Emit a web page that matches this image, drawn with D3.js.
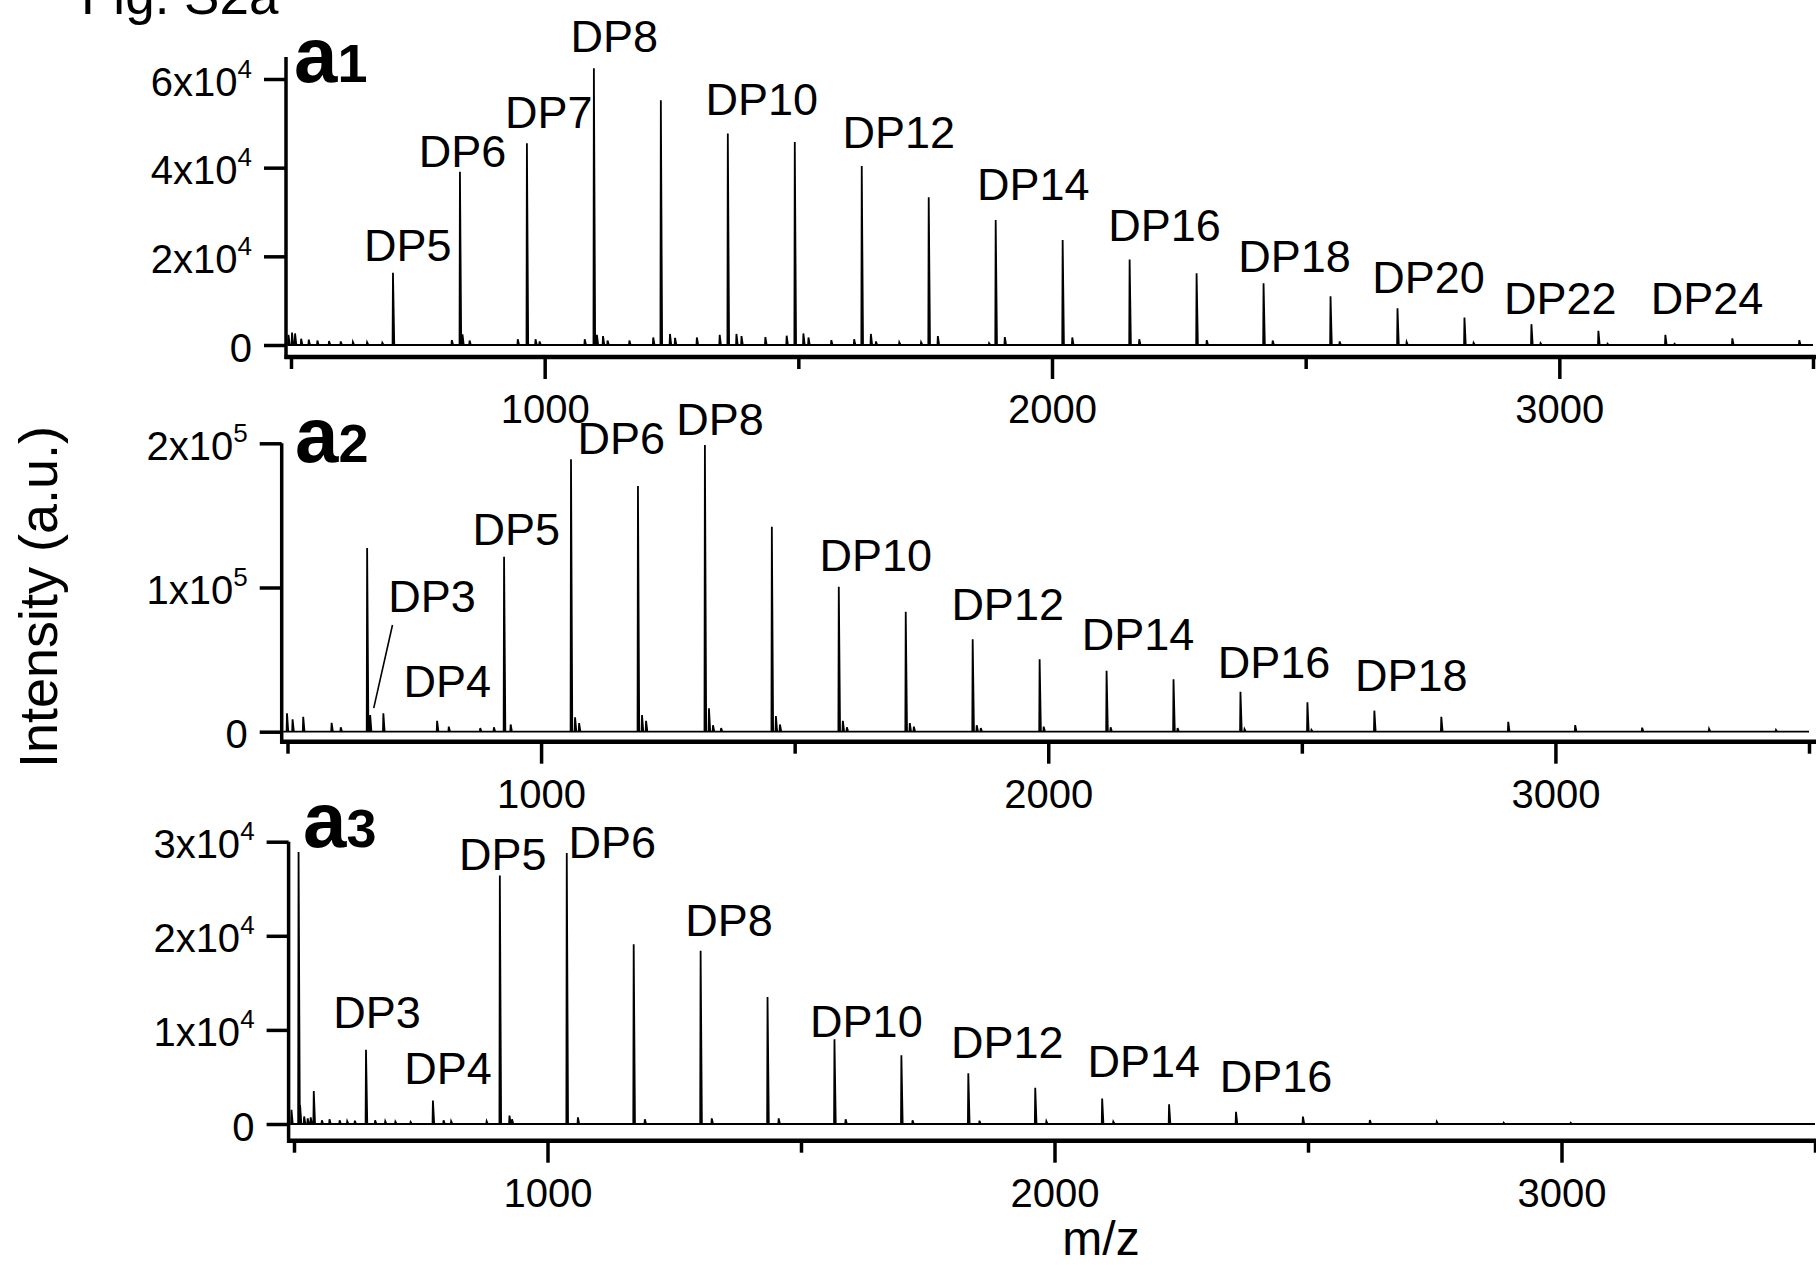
<!DOCTYPE html>
<html>
<head>
<meta charset="utf-8">
<script src="https://cdn.jsdelivr.net/npm/d3@7/dist/d3.min.js"></script>
<style>
  body { margin: 0; background: #fff; }
  svg { display: block; font-family: "Liberation Sans", Arial, sans-serif; }
</style>
</head>
<body>
<div id="chart"></div>
<script>
"use strict";

// m/z ticks shared by the three spectra
var xMajorTicks = [1000, 2000, 3000];
var xMinorTicks = [500, 1500, 2500, 3500];

// spectrum a1 : [m/z, intensity]
var a1Ticks = [0, 20000, 40000, 60000];
var a1Peaks = [
  [701, 16300], [833, 39100], [965, 45500], [1097, 62400], [1229, 55200],
  [1361, 47700], [1493, 45800], [1625, 40400], [1757, 33300], [1889, 28200],
  [2021, 23700], [2153, 19300], [2285, 16200], [2417, 13900], [2549, 11000],
  [2681, 8300], [2813, 6200], [2945, 4700], [3077, 3200], [3209, 2300],
  [3341, 1500], [3473, 1100]
];
var a1Minor = [
  [495, 2300], [502, 2800], [508, 2600], [520, 1400], [535, 1200], [552, 1000],
  [575, 900], [598, 800], [622, 700], [650, 600], [680, 500], [817, 1100],
  [838, 2400], [852, 1000], [947, 1300], [982, 1300], [990, 800], [1079, 1300],
  [1103, 2300], [1115, 2000], [1124, 1000], [1167, 1000], [1214, 1700],
  [1247, 2500], [1257, 1600], [1300, 1700], [1345, 2300], [1378, 2500],
  [1388, 2000], [1435, 1800], [1477, 2100], [1510, 2600], [1520, 1700],
  [1565, 1100], [1610, 1300], [1643, 2500], [1653, 800], [1699, 600],
  [1742, 600], [1775, 2000], [1876, 400], [1907, 1800], [2040, 1700],
  [2172, 1300], [2305, 1100], [2435, 1000], [2567, 800], [2699, 700],
  [2831, 500], [2963, 400], [3095, 300], [3227, 250]
];
var a1Labels = [
  ["DP5", 730, 19000], ["DP6", 838, 40100], ["DP7", 1008, 48900],
  ["DP8", 1137, 66100], ["DP10", 1428, 51900], ["DP12", 1698, 44400],
  ["DP14", 1963, 32700], ["DP16", 2222, 23500], ["DP18", 2478, 16500],
  ["DP20", 2742, 11700], ["DP22", 3002, 7100], ["DP24", 3291, 7100]
];

// spectrum a2
var a2Ticks = [0, 100000, 200000];
var a2Peaks = [
  [657, 127400], [663, 11600], [795, 7600], [927, 121400], [1059, 188900],
  [1191, 170400], [1323, 198800], [1455, 142200], [1587, 100600],
  [1719, 83200], [1851, 64100], [1983, 50200], [2115, 42300], [2247, 36300],
  [2379, 27700], [2511, 20400], [2643, 14600], [2775, 10400], [2907, 6900],
  [3039, 4600], [3171, 2800], [3303, 1900], [3435, 1200]
];
var a2Minor = [
  [499, 12800], [510, 8600], [531, 10400], [587, 6200], [605, 3000],
  [689, 12800], [818, 3500], [880, 2500], [907, 3000], [940, 5000],
  [1067, 10000], [1075, 6000], [1199, 11600], [1207, 7600], [1331, 16200],
  [1339, 4500], [1355, 2500], [1463, 10900], [1471, 5000], [1595, 7600],
  [1603, 3000], [1727, 6000], [1735, 3500], [1859, 4500], [1867, 2500],
  [1991, 3500], [2123, 3000], [2255, 2500], [2387, 1800], [2519, 1200]
];
var a2Labels = [
  ["DP3", 785, 83200], ["DP4", 815, 24300], ["DP5", 951, 129500],
  ["DP6", 1158, 192600], ["DP8", 1353, 205800], ["DP10", 1660, 111700],
  ["DP12", 1920, 77500], ["DP14", 2177, 56700], ["DP16", 2445, 37000],
  ["DP18", 2716, 28400]
];
var a2Leader = [[707, 74000], [670, 16300]];

// spectrum a3
var a3Ticks = [0, 10000, 20000, 30000];
var a3Peaks = [
  [509, 28900], [539, 3500], [642, 7900], [774, 2500], [906, 26400],
  [1038, 28800], [1170, 19100], [1302, 18400], [1434, 13500], [1566, 9000],
  [1698, 7300], [1830, 5400], [1962, 3850], [2094, 2700], [2226, 2100],
  [2358, 1300], [2490, 780], [2622, 420], [2754, 240], [2886, 140], [3018, 120]
];
var a3Minor = [
  [495, 1500], [512, 2000], [520, 800], [527, 600], [533, 700], [555, 400],
  [570, 500], [590, 400], [605, 300], [620, 350], [660, 400], [680, 300],
  [700, 250], [730, 200], [795, 400], [810, 300], [880, 300], [925, 900],
  [930, 500], [1060, 700], [1192, 500], [1324, 600], [1456, 600], [1588, 500],
  [1720, 400], [1852, 350], [1984, 300], [2116, 250]
];
var a3Labels = [
  ["DP3", 664, 10200], ["DP4", 804, 4200], ["DP5", 912, 27000],
  ["DP6", 1128, 28300], ["DP8", 1358, 20000], ["DP10", 1629, 9200],
  ["DP12", 1907, 7000], ["DP14", 2176, 5000], ["DP16", 2437, 3400]
];

(function (d3) {
  'use strict';

  var width = 1816;
  var height = 1265;
  var svg = d3.select("#chart").append("svg").attr("width", width).attr("height", height);

  // panel frames, in pixels
  var panels = [{
    tag: "1", ticks: a1Ticks, peaks: a1Peaks.concat(a1Minor), labels: a1Labels, yMax: 60000,
    x0: 291, x1: 1813, axisX: 286, yBottom: 345, yTop: 79, axisTop: 57, xAxisY: 357, tagX: 294, tagY: 82
  }, {
    tag: "2", ticks: a2Ticks, peaks: a2Peaks.concat(a2Minor), labels: a2Labels, yMax: 200000,
    x0: 287.5, x1: 1809, axisX: 281.7, yBottom: 731.7, yTop: 443.3, axisTop: 443.3, xAxisY: 741.7, tagX: 295, tagY: 462,
    leader: a2Leader
  }, {
    tag: "3", ticks: a3Ticks, peaks: a3Peaks.concat(a3Minor), labels: a3Labels, yMax: 30000,
    x0: 294, x1: 1815, axisX: 288.6, yBottom: 1124, yTop: 841.7, axisTop: 841.7, xAxisY: 1140.7, tagX: 303, tagY: 847
  }];

  var yTickFormat = function (sel) {
    sel.selectAll(".tick text").each(function (d) {
      var t = d3.select(this).text("");
      if (d === 0) {
        t.text("0");
        return;
      }
      var exp = Math.floor(Math.log10(d));
      var mant = Math.round(d / Math.pow(10, exp));
      t.append("tspan").text(mant + "x10");
      t.append("tspan").attr("dy", -18).attr("font-size", 26).text(exp);
    });
  };

  var styleAxis = function (sel) {
    sel.select(".domain").remove();
    sel.selectAll(".tick line").attr("stroke", "#000").attr("stroke-width", 3.5);
    sel.selectAll(".tick text").attr("fill", "#000").attr("font-size", 40);
  };

  panels.forEach(function (p) {
    var g = svg.append("g");
    var xScale = d3.scaleLinear().domain([500, 3500]).range([p.x0, p.x1]);
    var yScale = d3.scaleLinear().domain([0, p.yMax]).range([p.yBottom, p.yTop]);

    // spectrum trace: baseline with narrow peaks
    var peaks = p.peaks.slice().sort(function (a, b) { return a[0] - b[0]; });
    var pts = [[xScale.invert(p.axisX + 1.5), 0]];
    peaks.forEach(function (d) {
      pts.push([d[0] - 0.8, 0], [d[0], d[1]], [d[0] + 2.5, 0]);
    });
    pts.push([3500, 0]);
    var line = d3.line().x(function (d) { return xScale(d[0]); }).y(function (d) { return yScale(d[1]); });
    g.append("path").attr("d", line(pts)).attr("fill", "none").attr("stroke", "#000")
      .attr("stroke-width", 1.8).attr("stroke-linejoin", "miter");

    if (p.leader) {
      g.append("path").attr("d", line(p.leader)).attr("fill", "none").attr("stroke", "#000").attr("stroke-width", 1.6);
    }

    // axes
    g.append("line").attr("x1", p.axisX).attr("x2", p.axisX).attr("y1", p.axisTop).attr("y2", p.xAxisY + 2)
      .attr("stroke", "#000").attr("stroke-width", 3.5);
    g.append("line").attr("x1", p.axisX - 1.5).attr("x2", width).attr("y1", p.xAxisY).attr("y2", p.xAxisY)
      .attr("stroke", "#000").attr("stroke-width", 4.5);

    var yAxisG = g.append("g").attr("transform", "translate(" + p.axisX + ",0)")
      .call(d3.axisLeft(yScale).tickValues(p.ticks).tickSize(22).tickPadding(12));
    styleAxis(yAxisG);
    yAxisG.call(yTickFormat);
    yAxisG.selectAll(".tick text").attr("dy", "0.4em");

    var xMajG = g.append("g").attr("transform", "translate(0," + p.xAxisY + ")")
      .call(d3.axisBottom(xScale).tickValues(xMajorTicks).tickSize(22).tickPadding(16).tickFormat(d3.format("d")));
    styleAxis(xMajG);
    var xMinG = g.append("g").attr("transform", "translate(0," + p.xAxisY + ")")
      .call(d3.axisBottom(xScale).tickValues(xMinorTicks).tickSize(12).tickFormat(""));
    styleAxis(xMinG);

    // DP annotations
    g.selectAll("text.dp").data(p.labels).enter().append("text").attr("class", "dp")
      .attr("x", function (d) { return xScale(d[1]); })
      .attr("y", function (d) { return yScale(d[2]); })
      .attr("text-anchor", "middle").attr("font-size", 45).attr("fill", "#000")
      .text(function (d) { return d[0]; });

    // panel tag a1 / a2 / a3
    var tag = g.append("text").attr("x", p.tagX).attr("y", p.tagY).attr("font-weight", "bold").attr("fill", "#000");
    tag.append("tspan").attr("font-size", 78).text("a");
    tag.append("tspan").attr("font-size", 54).text(p.tag);
  });

  svg.append("text").attr("transform", "translate(57,597) rotate(-90)").attr("text-anchor", "middle")
    .attr("font-size", 54).text("Intensity (a.u.)");
  svg.append("text").attr("x", 1101).attr("y", 1255).attr("text-anchor", "middle")
    .attr("font-size", 48).text("m/z");
  svg.append("text").attr("x", 81).attr("y", 14).attr("font-size", 53).text("Fig. S2a");
})(d3);
</script>
</body>
</html>
